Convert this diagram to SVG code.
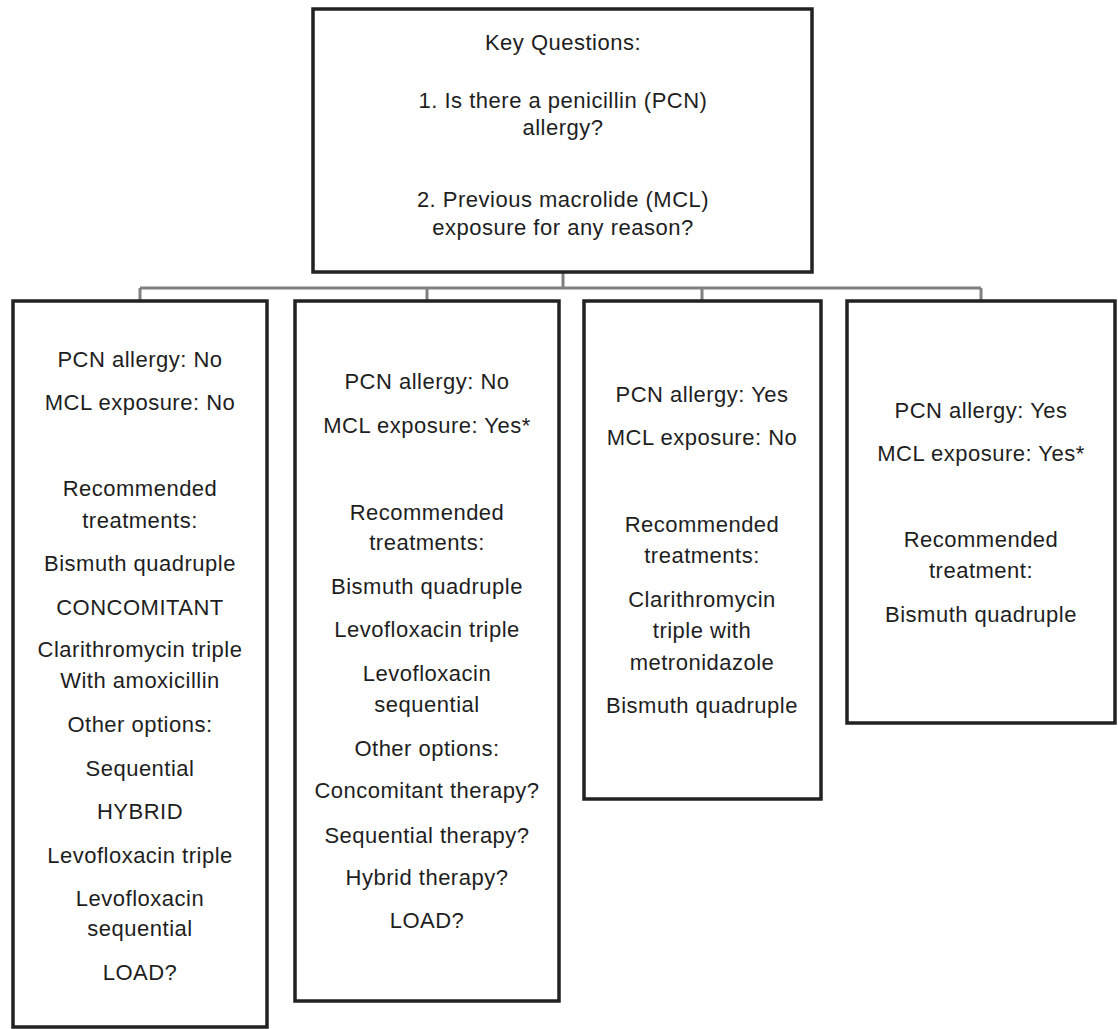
<svg xmlns="http://www.w3.org/2000/svg" width="1118" height="1029" viewBox="0 0 1118 1029">
<style>
.box{fill:#fff;stroke:#222;stroke-width:3.5}
.conn{fill:none;stroke:#808080;stroke-width:3}
text{font-family:"Liberation Sans",Arial,sans-serif;font-size:22px;fill:#1e1e1e;text-anchor:middle;letter-spacing:0.5px}
</style>
<rect x="0" y="0" width="1118" height="1029" fill="#fff"/>
<g id="connectors">
<path class="conn" d="M563 272 V288 M140 288 H981 M140 288 V301 M427 288 V301 M702 288 V301 M981 288 V301"/>
</g>
<g id="key-questions">
<rect class="box" x="313" y="9" width="499" height="263"/>
<text x="563" y="50">Key Questions:</text>
<text x="563" y="108">1. Is there a penicillin (PCN)</text>
<text x="563" y="135">allergy?</text>
<text x="563" y="207">2. Previous macrolide (MCL)</text>
<text x="563" y="235">exposure for any reason?</text>
</g>
<g id="case1">
<rect class="box" x="13" y="301" width="254" height="726"/>
<text x="140" y="367">PCN allergy: No</text>
<text x="140" y="410">MCL exposure: No</text>
<text x="140" y="496">Recommended</text>
<text x="140" y="528">treatments:</text>
<text x="140" y="571">Bismuth quadruple</text>
<text x="140" y="615">CONCOMITANT</text>
<text x="140" y="657">Clarithromycin triple</text>
<text x="140" y="688">With amoxicillin</text>
<text x="140" y="732">Other options:</text>
<text x="140" y="776">Sequential</text>
<text x="140" y="819">HYBRID</text>
<text x="140" y="863">Levofloxacin triple</text>
<text x="140" y="906">Levofloxacin</text>
<text x="140" y="936">sequential</text>
<text x="140" y="980">LOAD?</text>
</g>
<g id="case2">
<rect class="box" x="295" y="301" width="264" height="700"/>
<text x="427" y="389">PCN allergy: No</text>
<text x="427" y="433">MCL exposure: Yes*</text>
<text x="427" y="520">Recommended</text>
<text x="427" y="550">treatments:</text>
<text x="427" y="594">Bismuth quadruple</text>
<text x="427" y="637">Levofloxacin triple</text>
<text x="427" y="681">Levofloxacin</text>
<text x="427" y="712">sequential</text>
<text x="427" y="756">Other options:</text>
<text x="427" y="798">Concomitant therapy?</text>
<text x="427" y="843">Sequential therapy?</text>
<text x="427" y="885">Hybrid therapy?</text>
<text x="427" y="928">LOAD?</text>
</g>
<g id="case3">
<rect class="box" x="584" y="301" width="237" height="498"/>
<text x="702" y="402">PCN allergy: Yes</text>
<text x="702" y="445">MCL exposure: No</text>
<text x="702" y="532">Recommended</text>
<text x="702" y="563">treatments:</text>
<text x="702" y="607">Clarithromycin</text>
<text x="702" y="638">triple with</text>
<text x="702" y="670">metronidazole</text>
<text x="702" y="713">Bismuth quadruple</text>
</g>
<g id="case4">
<rect class="box" x="847" y="301" width="268" height="422"/>
<text x="981" y="418">PCN allergy: Yes</text>
<text x="981" y="461">MCL exposure: Yes*</text>
<text x="981" y="547">Recommended</text>
<text x="981" y="578">treatment:</text>
<text x="981" y="622">Bismuth quadruple</text>
</g>
</svg>
